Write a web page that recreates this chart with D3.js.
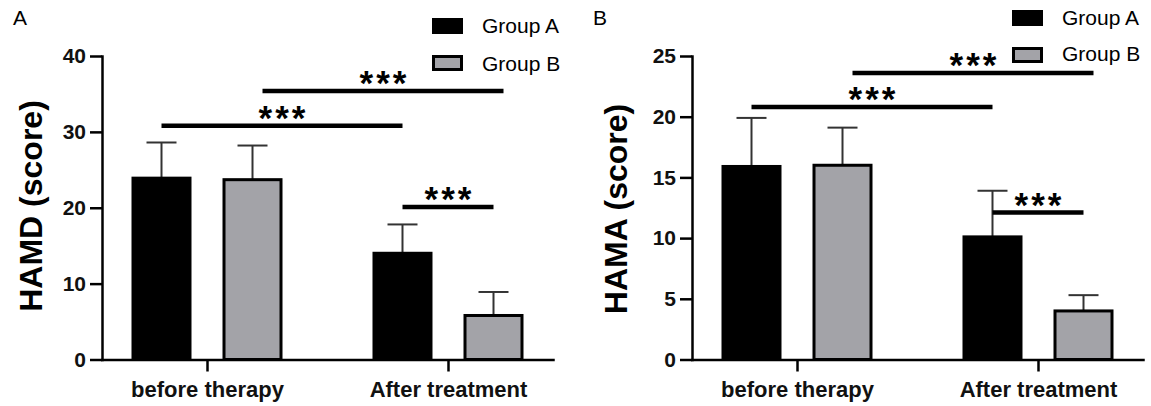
<!DOCTYPE html>
<html><head><meta charset="utf-8">
<script src="https://cdn.jsdelivr.net/npm/d3@7"></script>
<style>
body{margin:0;background:#fff}
svg{display:block}
text{font-family:"Liberation Sans",Arial,sans-serif}
</style>
</head><body>
<svg id="c" width="1151" height="406"></svg>
<script>
// ---------- data ----------
const categories = ["before therapy", "After treatment"];
const groups = ["Group A", "Group B"];

const hamdGroupA = [23.9, 14.0];
const hamdGroupB = [23.7, 5.8];
const hamdSdA = [4.7, 3.8];
const hamdSdB = [4.5, 3.1];
const hamdTicks = [0, 10, 20, 30, 40];

const hamaGroupA = [15.9, 10.1];
const hamaGroupB = [16.0, 4.0];
const hamaSdA = [4.0, 3.8];
const hamaSdB = [3.1, 1.3];
const hamaTicks = [0, 5, 10, 15, 20, 25];

// significance brackets: [categoryIndex, groupIndex] endpoints, level in score units
const hamdSig = [
  {from: [0, 0], to: [1, 0], level: 30.8, label: "***"},
  {from: [0, 1], to: [1, 1], level: 35.4, label: "***"},
  {from: [1, 0], to: [1, 1], level: 20.1, label: "***"}
];
const hamaSig = [
  {from: [0, 0], to: [1, 0], level: 20.8, label: "***"},
  {from: [0, 1], to: [1, 1], level: 23.6, label: "***"},
  {from: [1, 0], to: [1, 1], level: 12.1, label: "***"}
];

// ---------- layout ----------
const fills = ["#000000", "#a3a3a8"];
const panels = [
  {letter: "A", title: "HAMD (score)", ymax: 40, ticks: hamdTicks,
   means: [hamdGroupA, hamdGroupB], sds: [hamdSdA, hamdSdB], sig: hamdSig,
   left: 102, right: 553, letterX: 13, titleX: 42, titleY: 206,
   legX: 432, legY: [18, 55], legTextY: [33, 71]},
  {letter: "B", title: "HAMA (score)", ymax: 25, ticks: hamaTicks,
   means: [hamaGroupA, hamaGroupB], sds: [hamaSdA, hamaSdB], sig: hamaSig,
   left: 692, right: 1143, letterX: 593, titleX: 627, titleY: 209,
   legX: 1012, legY: [10, 47], legTextY: [25, 61]}
];
const plotTop = 56, plotBottom = 359.5;
const sigNudge = [0, 10, 0];

const svg = d3.select("#c");

panels.forEach(p => {
  const g = svg.append("g");
  const y = d3.scaleLinear().domain([0, p.ymax]).range([plotBottom, plotTop]);
  const x = d3.scalePoint().domain(categories).range([p.left, p.right]).padding(0.4357);
  const sub = d3.scaleBand().domain(groups).range([-75.5, 75.5]).paddingInner(0.3407);
  const bw = sub.bandwidth();
  const cx = (ci, gi) => x(categories[ci]) + sub(groups[gi]) + bw / 2;

  // error bars (upper only)
  groups.forEach((grp, gi) => {
    const data = categories.map((c, ci) => ({c, ci, m: p.means[gi][ci], s: p.sds[gi][ci]}));
    const eg = g.append("g");
    eg.selectAll("line.v").data(data).join("line").attr("class", "v")
      .attr("x1", d => cx(d.ci, gi)).attr("x2", d => cx(d.ci, gi))
      .attr("y1", d => y(d.m)).attr("y2", d => y(d.m + d.s))
      .attr("stroke", "#333").attr("stroke-width", 2);
    eg.selectAll("line.c").data(data).join("line").attr("class", "c")
      .attr("x1", d => cx(d.ci, gi) - 15).attr("x2", d => cx(d.ci, gi) + 15)
      .attr("y1", d => y(d.m + d.s)).attr("y2", d => y(d.m + d.s))
      .attr("stroke", "#333").attr("stroke-width", 2);
  });

  // bars
  groups.forEach((grp, gi) => {
    const data = categories.map((c, ci) => ({c, ci, m: p.means[gi][ci]}));
    g.append("g").selectAll("rect").data(data).join("rect")
      .attr("x", d => x(d.c) + sub(grp) + 1.5)
      .attr("width", bw - 3)
      .attr("y", d => y(d.m))
      .attr("height", d => plotBottom - y(d.m))
      .attr("fill", fills[gi]).attr("stroke", "#000").attr("stroke-width", 3);
  });

  // axes
  const ya = g.append("g").attr("transform", `translate(${p.left},0)`)
    .call(d3.axisLeft(y).tickValues(p.ticks).tickSize(12).tickPadding(4).tickSizeOuter(0));
  const xa = g.append("g").attr("transform", `translate(0,${plotBottom})`)
    .call(d3.axisBottom(x).tickSize(12).tickPadding(10).tickSizeOuter(0));
  [ya, xa].forEach(a => {
    a.select(".domain").attr("stroke", "#000").attr("stroke-width", 2.5).attr("stroke-linecap", "square");
    a.selectAll(".tick line").attr("stroke", "#000").attr("stroke-width", 2.5);
  });
  ya.selectAll(".tick text").attr("font-size", 21).attr("font-weight", "bold").attr("fill", "#111")
    .style("font-family", '"Liberation Sans",Arial,sans-serif');
  xa.selectAll(".tick text").attr("font-size", 22).attr("font-weight", "bold").attr("fill", "#111")
    .style("font-family", '"Liberation Sans",Arial,sans-serif');

  // y title
  g.append("text")
    .attr("transform", `translate(${p.titleX},${p.titleY}) rotate(-90)`)
    .attr("text-anchor", "middle").attr("font-size", 32).attr("font-weight", "bold")
    .text(p.title);

  // panel letter
  g.append("text").attr("x", p.letterX).attr("y", 25).attr("font-size", 21).text(p.letter);

  // significance brackets
  const sg = g.append("g");
  p.sig.forEach((s, i) => {
    const x1 = cx(s.from[0], s.from[1]) + sigNudge[i];
    const x2 = cx(s.to[0], s.to[1]) + sigNudge[i];
    const ly = y(s.level);
    sg.append("line").attr("x1", x1).attr("x2", x2).attr("y1", ly).attr("y2", ly)
      .attr("stroke", "#000").attr("stroke-width", 4.5);
    sg.append("text").attr("x", (x1 + x2) / 2 + 1.5).attr("y", ly + 4)
      .attr("text-anchor", "middle").attr("font-size", 35).attr("font-weight", "bold")
      .attr("letter-spacing", 3)
      .text(s.label);
  });

  // legend
  groups.forEach((grp, gi) => {
    g.append("rect").attr("x", p.legX + 1.5).attr("y", p.legY[gi] + 1.5)
      .attr("width", 28).attr("height", 13)
      .attr("fill", fills[gi]).attr("stroke", "#000").attr("stroke-width", 3);
    g.append("text").attr("x", p.legX + 50).attr("y", p.legTextY[gi])
      .attr("font-size", 21).text(grp);
  });
});
</script>
</body></html>
